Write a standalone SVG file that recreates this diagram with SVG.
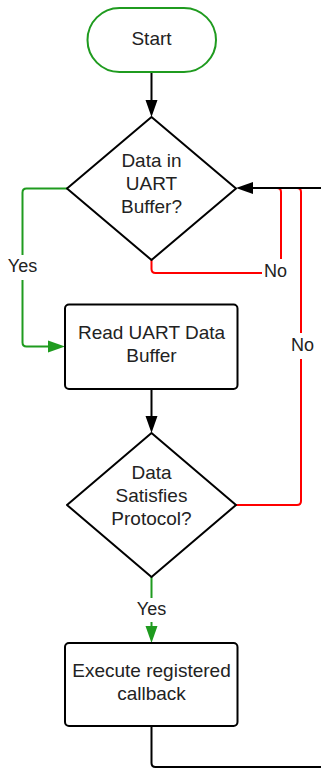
<svg xmlns="http://www.w3.org/2000/svg" width="321" height="768" viewBox="0 0 321 768">
  <style>
    .shape { fill: #fff; stroke: #000; stroke-width: 2; stroke-linejoin: round; }
    .term { fill: #fff; stroke: #1f9b1f; stroke-width: 2; }
    .txt { font-family: "Liberation Sans", Arial, sans-serif; font-size: 19px; fill: #222; text-anchor: middle; }
    .lbl { font-family: "Liberation Sans", Arial, sans-serif; font-size: 18px; fill: #222; text-anchor: middle; }
    .wire { fill: none; stroke-width: 2; stroke-linecap: butt; stroke-linejoin: round; }
    .black { stroke: #000; }
    .green { stroke: #1f9b1f; }
    .red { stroke: #ff0000; }
    .lblbg { fill: #fff; }
  </style>
  <defs>
    <marker id="arrow-black" markerUnits="userSpaceOnUse" markerWidth="17" markerHeight="12" refX="0" refY="6" orient="auto" overflow="visible">
      <path d="M0,0 L17,6 L0,12 z" fill="#000"/>
    </marker>
    <marker id="arrow-green" markerUnits="userSpaceOnUse" markerWidth="17" markerHeight="12" refX="0" refY="6" orient="auto" overflow="visible">
      <path d="M0,0 L17,6 L0,12 z" fill="#1f9b1f"/>
    </marker>
  </defs>

  <!-- connectors -->
  <g id="connectors">
    <!-- "No" branches return to the first decision -->
    <path class="wire red" d="M151.5 260 V269 Q151.5 273 155.5 273 H277 Q281 273 281 269 V192 Q281 188 277 188 H268"/>
    <path class="wire red" d="M236 505 H297 Q301 505 301 501 V192 Q301 188 297 188 H288"/>
    <!-- start -> decision -->
    <path class="wire black" d="M151.5 72 V100" marker-end="url(#arrow-black)"/>
    <!-- yes -> read buffer -->
    <path class="wire green" d="M67 188.5 H26.5 Q22.5 188.5 22.5 192.5 V342.5 Q22.5 346.5 26.5 346.5 H48" marker-end="url(#arrow-green)"/>
    <!-- read buffer -> protocol check -->
    <path class="wire black" d="M151.5 389 V416" marker-end="url(#arrow-black)"/>
    <!-- yes -> execute callback -->
    <path class="wire green" d="M151.5 577 V626" marker-end="url(#arrow-green)"/>
    <!-- loop back from callback to the first decision -->
    <path class="wire black" d="M151.5 726 V763 Q151.5 767 155.5 767 H322"/>
    <path class="wire black" d="M322 188 H253" marker-end="url(#arrow-black)"/>

    <!-- connector labels -->
    <rect class="lblbg" x="6" y="255" width="33" height="25"/>
    <text class="lbl" x="22.5" y="271.5">Yes</text>
    <rect class="lblbg" x="262" y="259" width="27" height="24"/>
    <text class="lbl" x="275.5" y="277">No</text>
    <rect class="lblbg" x="289" y="333" width="27" height="26"/>
    <text class="lbl" x="302.5" y="351">No</text>
    <rect class="lblbg" x="135" y="598" width="33" height="24"/>
    <text class="lbl" x="151.5" y="615">Yes</text>
  </g>

  <g id="start">
    <rect class="term" x="87.5" y="8" width="128.5" height="64" rx="32" ry="32"/>
    <text class="txt" x="151.5" y="44.5">Start</text>
  </g>

  <g id="data-in-buffer">
    <polygon class="shape" points="151.5,117 236,188.5 151.5,260 67,188.5"/>
    <text class="txt" x="151.5" y="167">Data in</text>
    <text class="txt" x="151.5" y="190">UART</text>
    <text class="txt" x="151.5" y="212.5">Buffer?</text>
  </g>

  <g id="read-buffer">
    <rect class="shape" x="65" y="304.5" width="172.5" height="84.5" rx="4" ry="4"/>
    <text class="txt" x="151.5" y="338.5">Read UART Data</text>
    <text class="txt" x="151.5" y="361.5">Buffer</text>
  </g>

  <g id="satisfies-protocol">
    <polygon class="shape" points="151.5,433 236,505 151.5,577 67,505"/>
    <text class="txt" x="151.5" y="479">Data</text>
    <text class="txt" x="151.5" y="502">Satisfies</text>
    <text class="txt" x="151.5" y="525">Protocol?</text>
  </g>

  <g id="execute-callback">
    <rect class="shape" x="65" y="643" width="172.5" height="83" rx="4" ry="4"/>
    <text class="txt" x="151.5" y="676.5">Execute registered</text>
    <text class="txt" x="151.5" y="699.5">callback</text>
  </g>
</svg>
